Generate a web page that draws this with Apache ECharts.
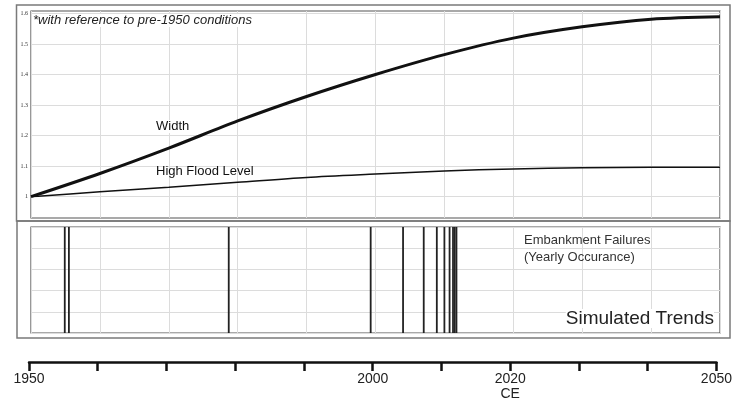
<!DOCTYPE html>
<html>
<head>
<meta charset="utf-8">
<script src="https://cdn.jsdelivr.net/npm/echarts@6/dist/echarts.min.js"></script>
<style>
  html, body { margin: 0; padding: 0; background: #fff; }
  #chart { width: 735px; height: 403px; }
</style>
</head>
<body>
<div id="chart"></div>
<script>
// decade points
const years = [1950, 1960, 1970, 1980, 1990, 2000, 2010, 2020, 2030, 2040, 2050]
const widthRatio = [1.0, 1.076, 1.159, 1.248, 1.328, 1.400, 1.465, 1.519, 1.556, 1.581, 1.589]
const floodRatio = [1.0, 1.016, 1.031, 1.047, 1.063, 1.074, 1.084, 1.091, 1.095, 1.096, 1.096]

// embankment failure years (bottom panel)
const failureYears = [1954.9, 1955.5, 1978.7, 1999.3, 2004.0, 2007.0, 2008.9, 2010.0, 2010.75, 2011.25, 2011.5, 2011.75]

// labelled years on the time axis
const labelYears = [1950, 2000, 2020, 2050]
const axisName = 'CE'

let chart

const initChart = () => {
    chart = echarts.init(document.getElementById('chart'), null, { renderer: 'canvas' })
    setOptions()
}

const gridLine = { show: true, lineStyle: { color: '#dcdcdc', width: 1 } }
const noAxis = { axisLine: { show: false }, axisTick: { show: false }, axisLabel: { show: false } }
const font = 'Liberation Sans, Arial, sans-serif'

const setOptions = () => {
    chart.setOption({
        animation: false,
        textStyle: { fontFamily: font },
        grid: [
            // top panel frame + vertical grid
            { left: 31, right: 15, top: 11, height: 207, show: true, borderColor: '#555', borderWidth: 1.2 },
            // top panel data
            { left: 31, right: 15, top: 13.4, height: 183.3 },
            // bottom panel
            { left: 31, right: 15, top: 227, height: 106, show: true, borderColor: '#555', borderWidth: 1.2 },
            // time axis
            { left: 29, right: 15, top: 361, height: 1 }
        ],
        xAxis: [
            { gridIndex: 0, type: 'value', min: 1950, max: 2050, interval: 10, splitLine: gridLine, ...noAxis },
            { gridIndex: 1, type: 'value', min: 1950, max: 2050, interval: 10, splitLine: { show: false }, ...noAxis },
            { gridIndex: 2, type: 'value', min: 1950, max: 2050, interval: 10, splitLine: gridLine, ...noAxis },
            {
                gridIndex: 3, type: 'value', min: 1950, max: 2050, interval: 10,
                splitLine: { show: false },
                axisLine: { show: true, lineStyle: { color: '#111', width: 2.5 } },
                axisTick: { show: true, length: 9, lineStyle: { color: '#111', width: 2.5 } },
                axisLabel: {
                    margin: 10,
                    fontSize: 14,
                    lineHeight: 15,
                    color: '#222',
                    formatter: (v) => {
                        if (!labelYears.includes(v)) return ''
                        return v === 2020 ? v + '\n' + axisName : String(v)
                    }
                }
            }
        ],
        yAxis: [
            { gridIndex: 0, type: 'value', min: 0, max: 1, splitLine: { show: false }, ...noAxis },
            {
                gridIndex: 1, type: 'value', min: 1, max: 1.6, interval: 0.1,
                splitLine: gridLine,
                axisLine: { show: false },
                axisTick: { show: false },
                axisLabel: { margin: 3, fontSize: 6, color: '#333', fontFamily: 'Liberation Serif, serif' }
            },
            { gridIndex: 2, type: 'value', min: 0, max: 5, interval: 1, splitLine: gridLine, ...noAxis },
            { gridIndex: 3, type: 'value', min: 0, max: 1, splitLine: { show: false }, ...noAxis }
        ],
        series: [
            {
                name: 'Width',
                type: 'line',
                xAxisIndex: 1, yAxisIndex: 1,
                data: years.map((y, i) => [y, widthRatio[i]]),
                smooth: 0.3,
                showSymbol: false,
                lineStyle: { color: '#111', width: 3 }
            },
            {
                name: 'High Flood Level',
                type: 'line',
                xAxisIndex: 1, yAxisIndex: 1,
                data: years.map((y, i) => [y, floodRatio[i]]),
                smooth: 0.3,
                showSymbol: false,
                lineStyle: { color: '#111', width: 1.5 }
            },
            {
                name: 'Embankment Failures',
                type: 'bar',
                xAxisIndex: 2, yAxisIndex: 2,
                data: failureYears.map((y) => [y, 5]),
                barWidth: 1.8,
                itemStyle: { color: '#222' }
            }
        ],
        graphic: [
            // outer frames
            { type: 'rect', z: 50, shape: { x: 16.5, y: 5, width: 713.5, height: 216 }, style: { fill: 'none', stroke: '#7a7a7a', lineWidth: 1.5 }, silent: true },
            { type: 'rect', z: 50, shape: { x: 17, y: 221, width: 713, height: 117 }, style: { fill: 'none', stroke: '#7a7a7a', lineWidth: 1.5 }, silent: true },
            // annotations
            { type: 'text', z: 100, left: 33, top: 14, style: { text: '*with reference to pre-1950 conditions', font: 'italic 13px ' + font, fill: '#222', backgroundColor: '#fff' } },
            { type: 'text', z: 100, left: 156, top: 120, style: { text: 'Width', font: '13px ' + font, fill: '#111', backgroundColor: '#fff' } },
            { type: 'text', z: 100, left: 156, top: 165, style: { text: 'High Flood Level', font: '13px ' + font, fill: '#111' } },
            { type: 'text', z: 100, left: 524, top: 232, style: { text: 'Embankment Failures\n(Yearly Occurance)', font: '13px ' + font, lineHeight: 17, fill: '#333' } },
            { type: 'text', z: 100, right: 21, top: 309, style: { text: 'Simulated Trends', font: '19px ' + font, fill: '#222', backgroundColor: '#fff' } }
        ]
    })
}

initChart()
</script>
</body>
</html>
